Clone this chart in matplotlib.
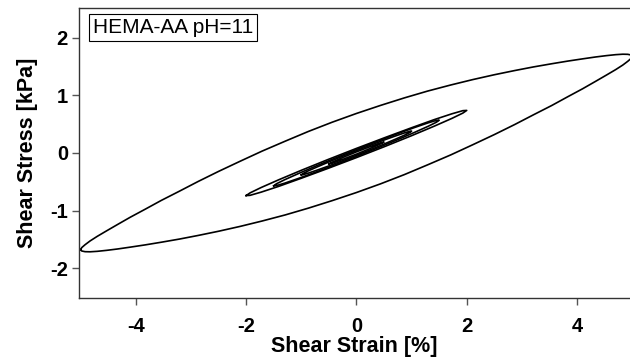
import numpy as np
import matplotlib.pyplot as plt

plt.rcParams['font.family'] = ['Liberation Sans', 'DejaVu Sans']

# 5 % loop: strain points and the two branches of stress (kPa)
big_strain = [-5, -4.98, -4.92, -4.83, -4.70, -4.53, -4.33, -4.10, -3.83, -3.54,
              -3.21, -2.87, -2.5, -2.11, -1.71, -1.29, -0.87, -0.44, 0,
              0.44, 0.87, 1.29, 1.71, 2.11, 2.5, 2.87, 3.21, 3.54,
              3.83, 4.10, 4.33, 4.53, 4.70, 4.83, 4.92, 4.98, 5]
big_upper = [-1.68, -1.644, -1.594, -1.529, -1.449, -1.353, -1.242, -1.116, -0.977, -0.825,
             -0.664, -0.495, -0.320, -0.144, 0.033, 0.206, 0.375, 0.535, 0.687,
             0.828, 0.958, 1.076, 1.182, 1.276, 1.360, 1.433, 1.496, 1.551,
             1.597, 1.636, 1.668, 1.692, 1.709, 1.717, 1.715, 1.703, 1.68]
big_lower = [-1.68, -1.703, -1.715, -1.717, -1.709, -1.692, -1.668, -1.636, -1.597, -1.551,
             -1.496, -1.433, -1.360, -1.276, -1.182, -1.076, -0.958, -0.828, -0.687,
             -0.535, -0.375, -0.206, -0.033, 0.144, 0.320, 0.495, 0.664, 0.825,
             0.977, 1.116, 1.242, 1.353, 1.449, 1.529, 1.594, 1.644, 1.68]

# smaller amplitude loops (2 %, 1.5 %, 1 %, 0.5 %)
loop2_strain = [-2, -1.93, -1.73, -1.41, -1, -0.52, 0, 0.52, 1, 1.41, 1.73, 1.93, 2]
loop2_upper = [-0.74, -0.694, -0.601, -0.466, -0.301, -0.115, 0.08,
               0.269, 0.439, 0.580, 0.681, 0.736, 0.74]
loop2_lower = [-0.74, -0.736, -0.681, -0.580, -0.439, -0.269, -0.08,
               0.115, 0.301, 0.466, 0.601, 0.694, 0.74]

loop15_strain = [-1.5, -1.45, -1.3, -1.06, -0.75, -0.39, 0, 0.39, 0.75, 1.06, 1.3, 1.45, 1.5]
loop15_upper = [-0.57, -0.535, -0.464, -0.361, -0.233, -0.090, 0.06,
                0.206, 0.337, 0.445, 0.524, 0.567, 0.57]
loop15_lower = [-0.57, -0.567, -0.524, -0.445, -0.337, -0.206, -0.06,
                0.090, 0.233, 0.361, 0.464, 0.535, 0.57]

loop1_strain = [-1, -0.97, -0.87, -0.71, -0.5, -0.26, 0, 0.26, 0.5, 0.71, 0.87, 0.97, 1]
loop1_upper = [-0.38, -0.357, -0.309, -0.241, -0.155, -0.059, 0.04,
               0.137, 0.225, 0.297, 0.349, 0.377, 0.38]
loop1_lower = [-0.38, -0.377, -0.349, -0.297, -0.225, -0.137, -0.04,
               0.059, 0.155, 0.241, 0.309, 0.357, 0.38]

loop05_strain = [-0.5, -0.43, -0.25, 0, 0.25, 0.43, 0.5]
loop05_upper = [-0.19, -0.155, -0.078, 0.02, 0.112, 0.175, 0.19]
loop05_lower = [-0.19, -0.175, -0.112, -0.02, 0.078, 0.155, 0.19]

loops = [
    (big_strain, big_upper, big_lower),
    (loop2_strain, loop2_upper, loop2_lower),
    (loop15_strain, loop15_upper, loop15_lower),
    (loop1_strain, loop1_upper, loop1_lower),
    (loop05_strain, loop05_upper, loop05_lower),
]

x_ticks = [-4, -2, 0, 2, 4]
y_ticks = [-2, -1, 0, 1, 2]

fig = plt.figure(figsize=(6.3, 3.63), dpi=100)
ax = fig.add_axes([79 / 630, 1 - 298 / 363, 551 / 630, 290 / 363])

for strain, upper, lower in loops:
    x = list(strain) + list(strain[::-1])
    y = list(upper) + list(lower[::-1])
    ax.plot(x, y, color='black', linewidth=1.2, solid_joinstyle='round')

ax.set_xlim(-5.03, 4.96)
ax.set_ylim(-2.52, 2.52)
ax.set_xticks(x_ticks)
ax.set_xticklabels([str(t) for t in x_ticks])
ax.set_yticks(y_ticks)
ax.set_yticklabels([str(t) for t in y_ticks])

for side in ['left', 'bottom', 'top']:
    ax.spines[side].set_color('#333333')
    ax.spines[side].set_linewidth(1.0)
ax.spines['right'].set_visible(False)
ax.tick_params(direction='out', length=5, width=1, color='#555555', labelsize=14.5)
ax.tick_params(axis='x', pad=9)
ax.tick_params(axis='y', pad=3)
for lbl in ax.get_xticklabels() + ax.get_yticklabels():
    lbl.set_fontweight('bold')

ax.set_xlabel('Shear Strain [%]', fontsize=15.5, fontweight='bold', labelpad=0)
ax.set_ylabel('Shear Stress [kPa]', fontsize=15.5, fontweight='bold', labelpad=9)

ax.text(0.0254, 0.9655, 'HEMA-AA pH=11', transform=ax.transAxes, fontsize=15,
        va='top', ha='left',
        bbox=dict(boxstyle='square,pad=0.2', facecolor='white',
                  edgecolor='black', linewidth=0.8))

fig.savefig('out.png', dpi=100)
